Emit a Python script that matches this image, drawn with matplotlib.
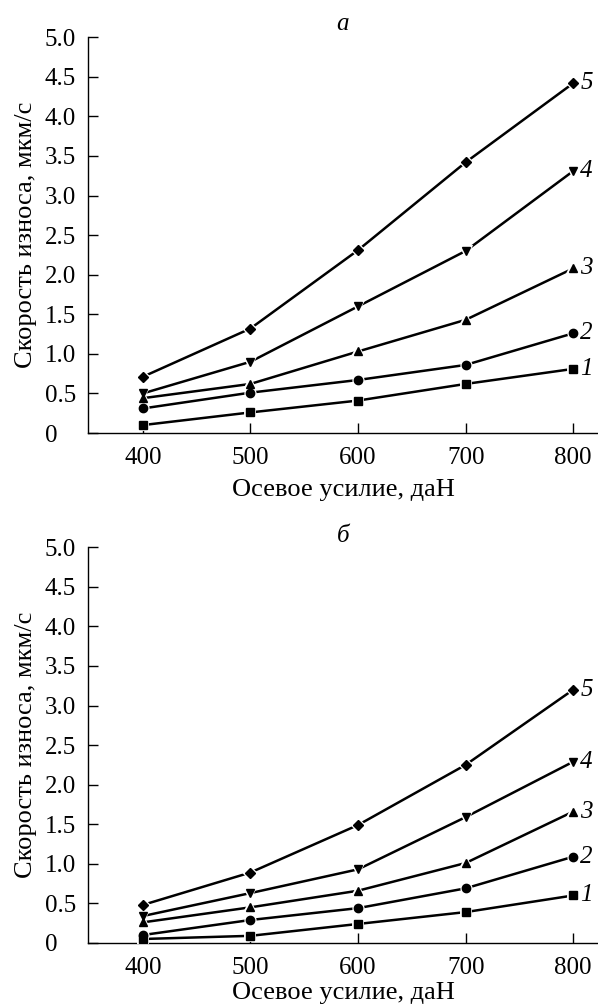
import matplotlib.pyplot as plt

plt.rcParams['font.family'] = ['Liberation Serif', 'DejaVu Serif']

force = [400, 500, 600, 700, 800]

# panel a
a1 = [0.10, 0.26, 0.41, 0.62, 0.81]
a2 = [0.31, 0.51, 0.67, 0.86, 1.26]
a3 = [0.44, 0.62, 1.03, 1.43, 2.08]
a4 = [0.50, 0.90, 1.60, 2.30, 3.31]
a5 = [0.71, 1.32, 2.31, 3.42, 4.42]

# panel b
b1 = [0.05, 0.09, 0.24, 0.39, 0.60]
b2 = [0.10, 0.29, 0.44, 0.69, 1.09]
b3 = [0.26, 0.45, 0.66, 1.01, 1.66]
b4 = [0.34, 0.63, 0.93, 1.59, 2.29]
b5 = [0.48, 0.89, 1.49, 2.25, 3.20]

markers = ['s', 'o', '^', 'v', 'D']
curve_names = ['1', '2', '3', '4', '5']
yticks = [0, 0.5, 1.0, 1.5, 2.0, 2.5, 3.0, 3.5, 4.0, 4.5, 5.0]
ytick_labels = ['0', '0.5', '1.0', '1.5', '2.0', '2.5', '3.0', '3.5', '4.0', '4.5', '5.0']

fig = plt.figure(figsize=(5.98, 10.07), dpi=100)
ax_a = fig.add_axes([0.147, 0.570, 0.853, 0.393])
ax_b = fig.add_axes([0.147, 0.0636, 0.853, 0.393])


def draw_panel(ax, series, title, title_pad, xlabel_pad):
    for vals, m, name in zip(series, markers, curve_names):
        ms = 6 if m != 'D' else 5
        # white marker edge leaves a small gap between the line and marker
        ax.plot(force, vals, color='black', linewidth=1.8, marker=m,
                markersize=ms, markerfacecolor='black',
                markeredgecolor='white', markeredgewidth=2.8, zorder=3)
        ax.plot(force, vals, linestyle='none', marker=m, markersize=ms,
                color='black', zorder=4)
        ax.annotate(name, (force[-1], vals[-1]), xytext=(5, 0),
                    textcoords='offset points', fontsize=18,
                    style='italic', va='center', ha='left',
                    annotation_clip=False)
    ax.set_xlim(349, 823)
    ax.set_ylim(0, 5.0)
    ax.set_xticks(force)
    ax.set_yticks(yticks)
    ax.set_yticklabels(ytick_labels, ha='left')
    ax.spines['top'].set_visible(False)
    ax.spines['right'].set_visible(False)
    ax.spines['left'].set_linewidth(1.0)
    ax.spines['bottom'].set_linewidth(1.0)
    ax.tick_params(direction='in', length=7, width=1.0, labelsize=18)
    ax.tick_params(axis='y', pad=31)
    ax.tick_params(axis='x', pad=10)
    ax.set_xlabel('Осевое усилие, даН', fontsize=19, labelpad=xlabel_pad)
    ax.set_ylabel('Скорость износа, мкм/с', fontsize=19, labelpad=6)
    ax.set_title(title, fontsize=18, style='italic', pad=title_pad)


draw_panel(ax_a, [a1, a2, a3, a4, a5], 'а', 5, 7)
draw_panel(ax_b, [b1, b2, b3, b4, b5], 'б', 1, 2)

fig.savefig('out.png', dpi=100)
